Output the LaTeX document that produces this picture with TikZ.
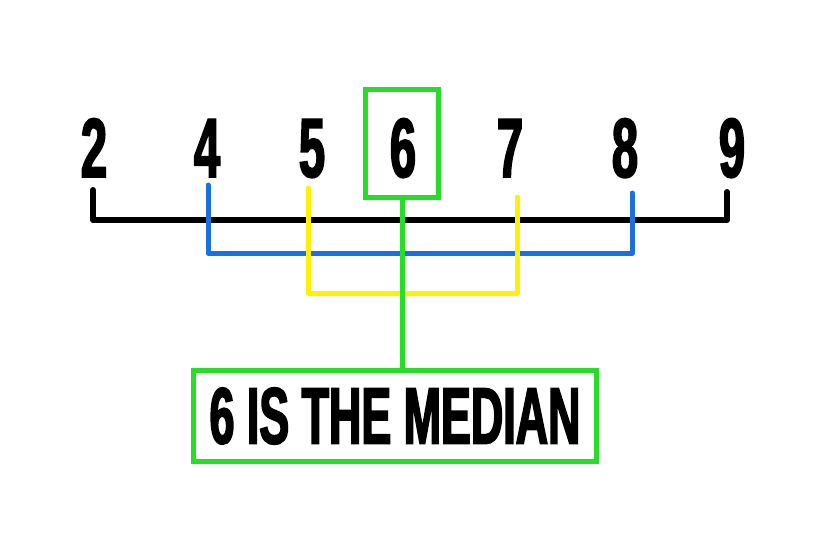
\documentclass[tikz,border=0pt]{standalone}
\usepackage{fontspec}
\newfontfamily\markfont[FakeStretch=0.56,FakeBold=2]{Liberation Sans}
\definecolor{bblue}{RGB}{25,112,222}
\definecolor{byellow}{RGB}{255,242,0}
\definecolor{bgreen}{RGB}{38,222,38}
\tikzset{
	digit/.style={anchor=base, inner sep=0pt, font=\markfont\bfseries\fontsize{84}{84}\selectfont},
	bar/.style={line width=#1, line join=round, line cap=round},
	greenbox/.style={draw=bgreen, line width=5pt, inner sep=0pt}
}
\begin{document}
\begin{tikzpicture}[x=1pt, y=-1pt]
	\useasboundingbox (0,0) rectangle (839,560);

	% Числа
	\node[digit] (n2) at (94,177) {2};
	\node[digit] (n4) at (207,177) {4};
	\node[digit] (n5) at (312,177) {5};
	\node[digit] (n6) at (403,177) {6};
	\node[digit] (n7) at (510,177) {7};
	\node[digit] (n8) at (625,177) {8};
	\node[digit] (n9) at (732,177) {9};

	% Рамки
	\node[greenbox, minimum width=73pt, minimum height=108pt] (box6) at (402,143) {};
	\node[greenbox, minimum width=403pt, minimum height=91pt,
		font=\markfont\bfseries\fontsize{80}{80}\selectfont] (median) at (395,416) {6 IS THE MEDIAN};

	% Концы скобок
	\coordinate (k2) at (93,190);
	\coordinate (k9) at (727,192);
	\coordinate (k4) at (208,185);
	\coordinate (k8) at (632,193);
	\coordinate (k5) at (308,188);
	\coordinate (k7) at (517,197);

	% Скобки
	\draw[bar=6pt, black] (k2) -- ++(0,30) -| (k9);
	\draw[bar=5pt, bblue] (k4) -- ++(0,68) -| (k8);
	\draw[bar=5pt, byellow] (k5) -- ++(0,105) -| (k7);

	% Линия к подписи
	\draw[bar=5pt, bgreen, line cap=butt] (box6.south) -- (box6.south |- median.north);
\end{tikzpicture}
\end{document}
